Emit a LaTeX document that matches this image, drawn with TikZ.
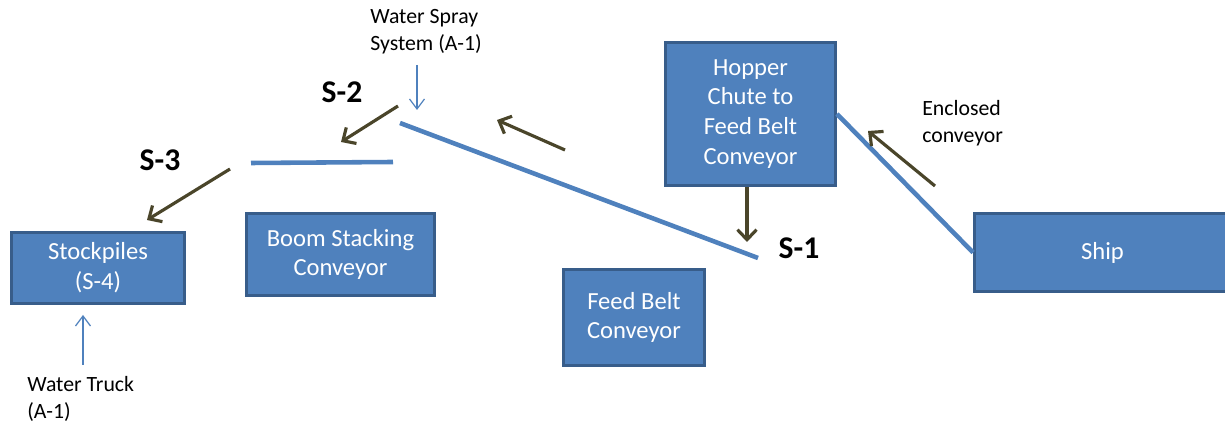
\documentclass[tikz,border=0pt]{standalone}
\usepackage{fontspec}
\setmainfont{Carlito}
\usetikzlibrary{arrows.meta}

\definecolor{boxfill}{HTML}{4F81BD}
\definecolor{boxline}{HTML}{385D8A}
\definecolor{beltblue}{HTML}{4F81BD}
\definecolor{flowbrown}{HTML}{4A452A}

\begin{document}
\begin{tikzpicture}[x=0.02cm,y=-0.02cm,
	box node/.style={draw=boxline,fill=boxfill,line width=1.7pt,text=white,
		align=center,inner sep=0pt,font=\fontsize{14}{17}\selectfont},
	note node/.style={align=left,anchor=west,inner sep=0pt,font=\fontsize{12.4}{15.2}\selectfont},
	stream node/.style={inner sep=0pt,font=\bfseries\fontsize{18}{22}\selectfont},
	belt/.style={draw=beltblue,line width=2.6pt},
	flow/.style={draw=flowbrown,line width=1.8pt,-{Straight Barb[length=2mm,width=3.8mm]}},
	water/.style={draw=beltblue,line width=0.7pt,-{Straight Barb[length=2mm,width=3mm]}}]
	
	\useasboundingbox (0,0) rectangle (1225,428);
	
	% equipment
	\node[box node,minimum width=3.46cm,minimum height=1.42cm] (stock) at (98,268) {Stockpiles\\(S-4)};
	\node[box node,minimum width=3.76cm,minimum height=1.64cm] (boom) at (340.5,254.5) {Boom Stacking\\Conveyor};
	\node[box node,minimum width=3.40cm,minimum height=2.86cm] (hopper) at (750.5,114) {Hopper\\Chute to\\Feed Belt\\Conveyor};
	\node[box node,minimum width=2.84cm,minimum height=1.92cm] (feed) at (634,317.5) {Feed Belt\\Conveyor};
	\node[box node,minimum width=5.12cm,minimum height=1.56cm] (ship) at (1102.5,252.5) {Ship};
	
	% labels
	\node[note node] (spray) at (370,31.5) {Water Spray\\System (A-1)};
	\node[note node] (truck) at (27,399) {Water Truck\\(A-1)};
	\node[note node] (enclosed) at (922,123.5) {Enclosed\\conveyor};
	\node[stream node] (s1) at (799,248) {S-1};
	\node[stream node] (s2) at (342,92) {S-2};
	\node[stream node] (s3) at (160,160) {S-3};
	
	% belt ends and arrow ends
	\coordinate (feedtop) at (400,123);
	\coordinate (feedend) at (758,258);
	\coordinate (boomleft) at (251,163);
	\coordinate (boomright) at (393,162);
	\coordinate (dropend) at (747,242);
	\coordinate (spraystart) at (417,65);
	\coordinate (sprayend) at (417,110);
	\coordinate (truckstart) at (83,365);
	\coordinate (truckend) at (83,315);
	\coordinate (a1) at (935,186);
	\coordinate (a2) at (868,131);
	\coordinate (b1) at (565,150);
	\coordinate (b2) at (497,120);
	\coordinate (c1) at (398,106);
	\coordinate (c2) at (341,142);
	\coordinate (d1) at (230,169);
	\coordinate (d2) at (147,220);
	
	\path
	(hopper.east) edge[belt] (ship.west)
	(feedtop) edge[belt] (feedend)
	(boomleft) edge[belt] (boomright);
	
	\path
	(a1) edge[flow] (a2)
	(b1) edge[flow] (b2)
	(c1) edge[flow] (c2)
	(d1) edge[flow] (d2)
	(hopper.south -| dropend) edge[flow] (dropend);
	
	\path
	(spraystart) edge[water] (sprayend)
	(truckstart) edge[water] (truckend);
\end{tikzpicture}
\end{document}
